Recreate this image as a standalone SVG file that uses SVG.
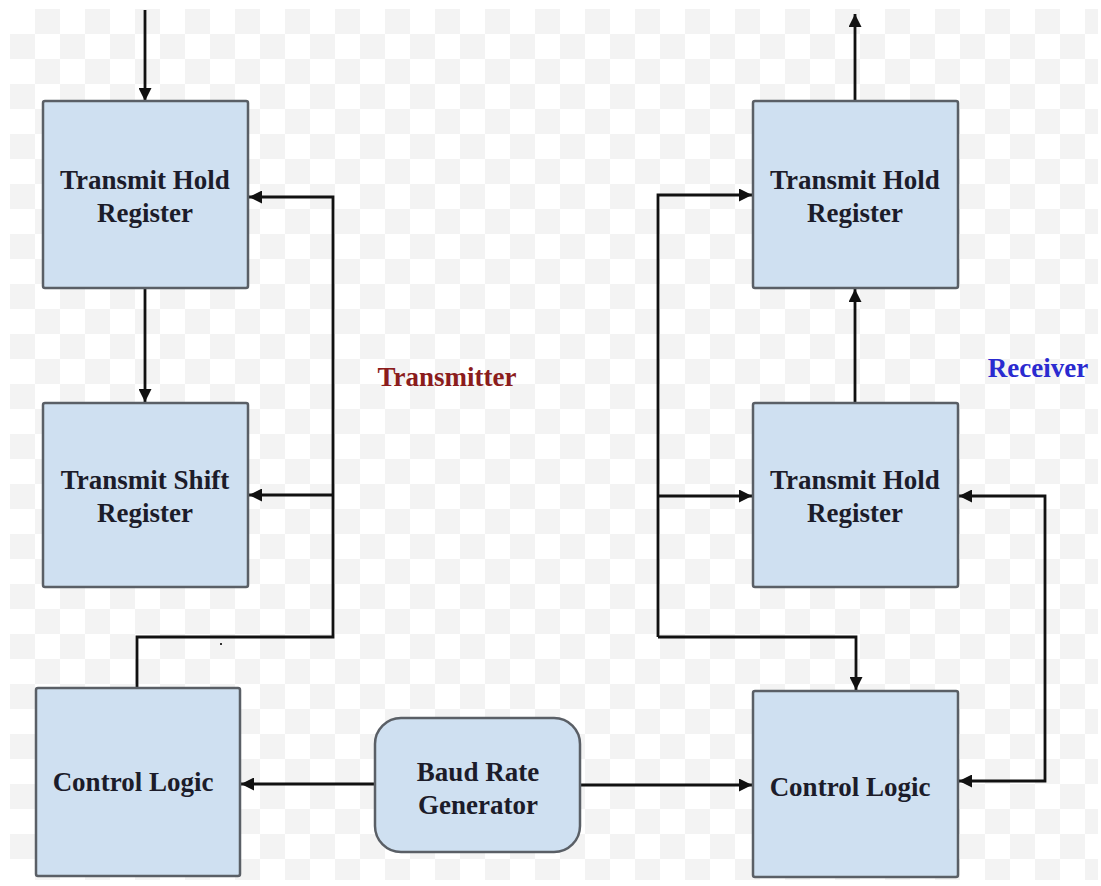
<svg xmlns="http://www.w3.org/2000/svg" width="1101" height="886" viewBox="0 0 1101 886">
  <defs>
    <pattern id="checker" x="10" y="9" width="50" height="50" patternUnits="userSpaceOnUse">
      <rect width="50" height="50" fill="#ffffff"/>
      <rect x="25" y="0" width="25" height="25" fill="#f3f3f3"/>
      <rect x="0" y="25" width="25" height="25" fill="#f3f3f3"/>
    </pattern>
    <marker id="arrow" viewBox="0 0 10 10" refX="10" refY="5" markerWidth="16" markerHeight="13" markerUnits="userSpaceOnUse" orient="auto-start-reverse">
      <path d="M0,0 L10,5 L0,10 z" fill="#111"/>
    </marker>
    <style>
      .box { fill: #cfe0f1; stroke: #5a5f66; stroke-width: 2.5; }
      .lbl { font-family: "Liberation Serif", "Times New Roman", serif; font-weight: bold; font-size: 27px; fill: #1c1c2a; text-anchor: middle; }
      .wire { fill: none; stroke: #111; stroke-width: 2.8; stroke-linejoin: miter; }
      .arr { marker-end: url(#arrow); }
      .both { marker-start: url(#arrow); marker-end: url(#arrow); }
    </style>
  </defs>

  <rect width="1101" height="886" fill="#ffffff"/>
  <rect x="10" y="9" width="1088" height="871" fill="url(#checker)"/>

  <!-- Connectors -->
  <g id="connectors">
    <!-- transmitter side -->
    <path class="wire arr" d="M145,10 V101"/>
    <path class="wire arr" d="M145,288 V402"/>
    <path class="wire arr" d="M137,688 V637 H333 V197 H249"/>
    <path class="wire arr" d="M333,495 H249"/>
    <path class="wire arr" d="M375,784 H241"/>
    <!-- receiver side -->
    <path class="wire arr" d="M580,785 H752"/>
    <path class="wire arr" d="M855,101 V14"/>
    <path class="wire arr" d="M855,403 V289"/>
    <path class="wire arr" d="M658,637 V195 H752"/>
    <path class="wire arr" d="M658,496 H752"/>
    <path class="wire arr" d="M658,637 H856 V690"/>
    <path class="wire both" d="M959,496 H1045 V781 H959"/>
    <rect x="220" y="643" width="2" height="2" fill="#333"/>
  </g>

  <!-- Transmitter blocks -->
  <g id="tx-hold">
    <rect class="box" x="43" y="101" width="205" height="187" rx="2"/>
    <text class="lbl" x="145" y="189">Transmit Hold</text>
    <text class="lbl" x="145" y="222">Register</text>
  </g>
  <g id="tx-shift">
    <rect class="box" x="43" y="403" width="205" height="184" rx="2"/>
    <text class="lbl" x="145" y="489">Transmit Shift</text>
    <text class="lbl" x="145" y="522">Register</text>
  </g>
  <g id="tx-control">
    <rect class="box" x="36" y="688" width="204" height="188" rx="2"/>
    <text class="lbl" x="133" y="791">Control Logic</text>
  </g>

  <!-- Shared clock -->
  <g id="baud">
    <rect class="box" x="375" y="718" width="205" height="134" rx="26"/>
    <text class="lbl" x="478" y="781">Baud Rate</text>
    <text class="lbl" x="478" y="814">Generator</text>
  </g>

  <!-- Receiver blocks -->
  <g id="rx-hold-top">
    <rect class="box" x="753" y="101" width="205" height="187" rx="2"/>
    <text class="lbl" x="855" y="189">Transmit Hold</text>
    <text class="lbl" x="855" y="222">Register</text>
  </g>
  <g id="rx-hold">
    <rect class="box" x="753" y="403" width="205" height="184" rx="2"/>
    <text class="lbl" x="855" y="489">Transmit Hold</text>
    <text class="lbl" x="855" y="522">Register</text>
  </g>
  <g id="rx-control">
    <rect class="box" x="753" y="691" width="205" height="186" rx="2"/>
    <text class="lbl" x="850" y="796">Control Logic</text>
  </g>

  <!-- Section titles -->
  <text class="lbl" x="447" y="386" style="fill:#8b1c1c">Transmitter</text>
  <text class="lbl" x="1038" y="377" style="fill:#2a2ad0">Receiver</text>
</svg>
